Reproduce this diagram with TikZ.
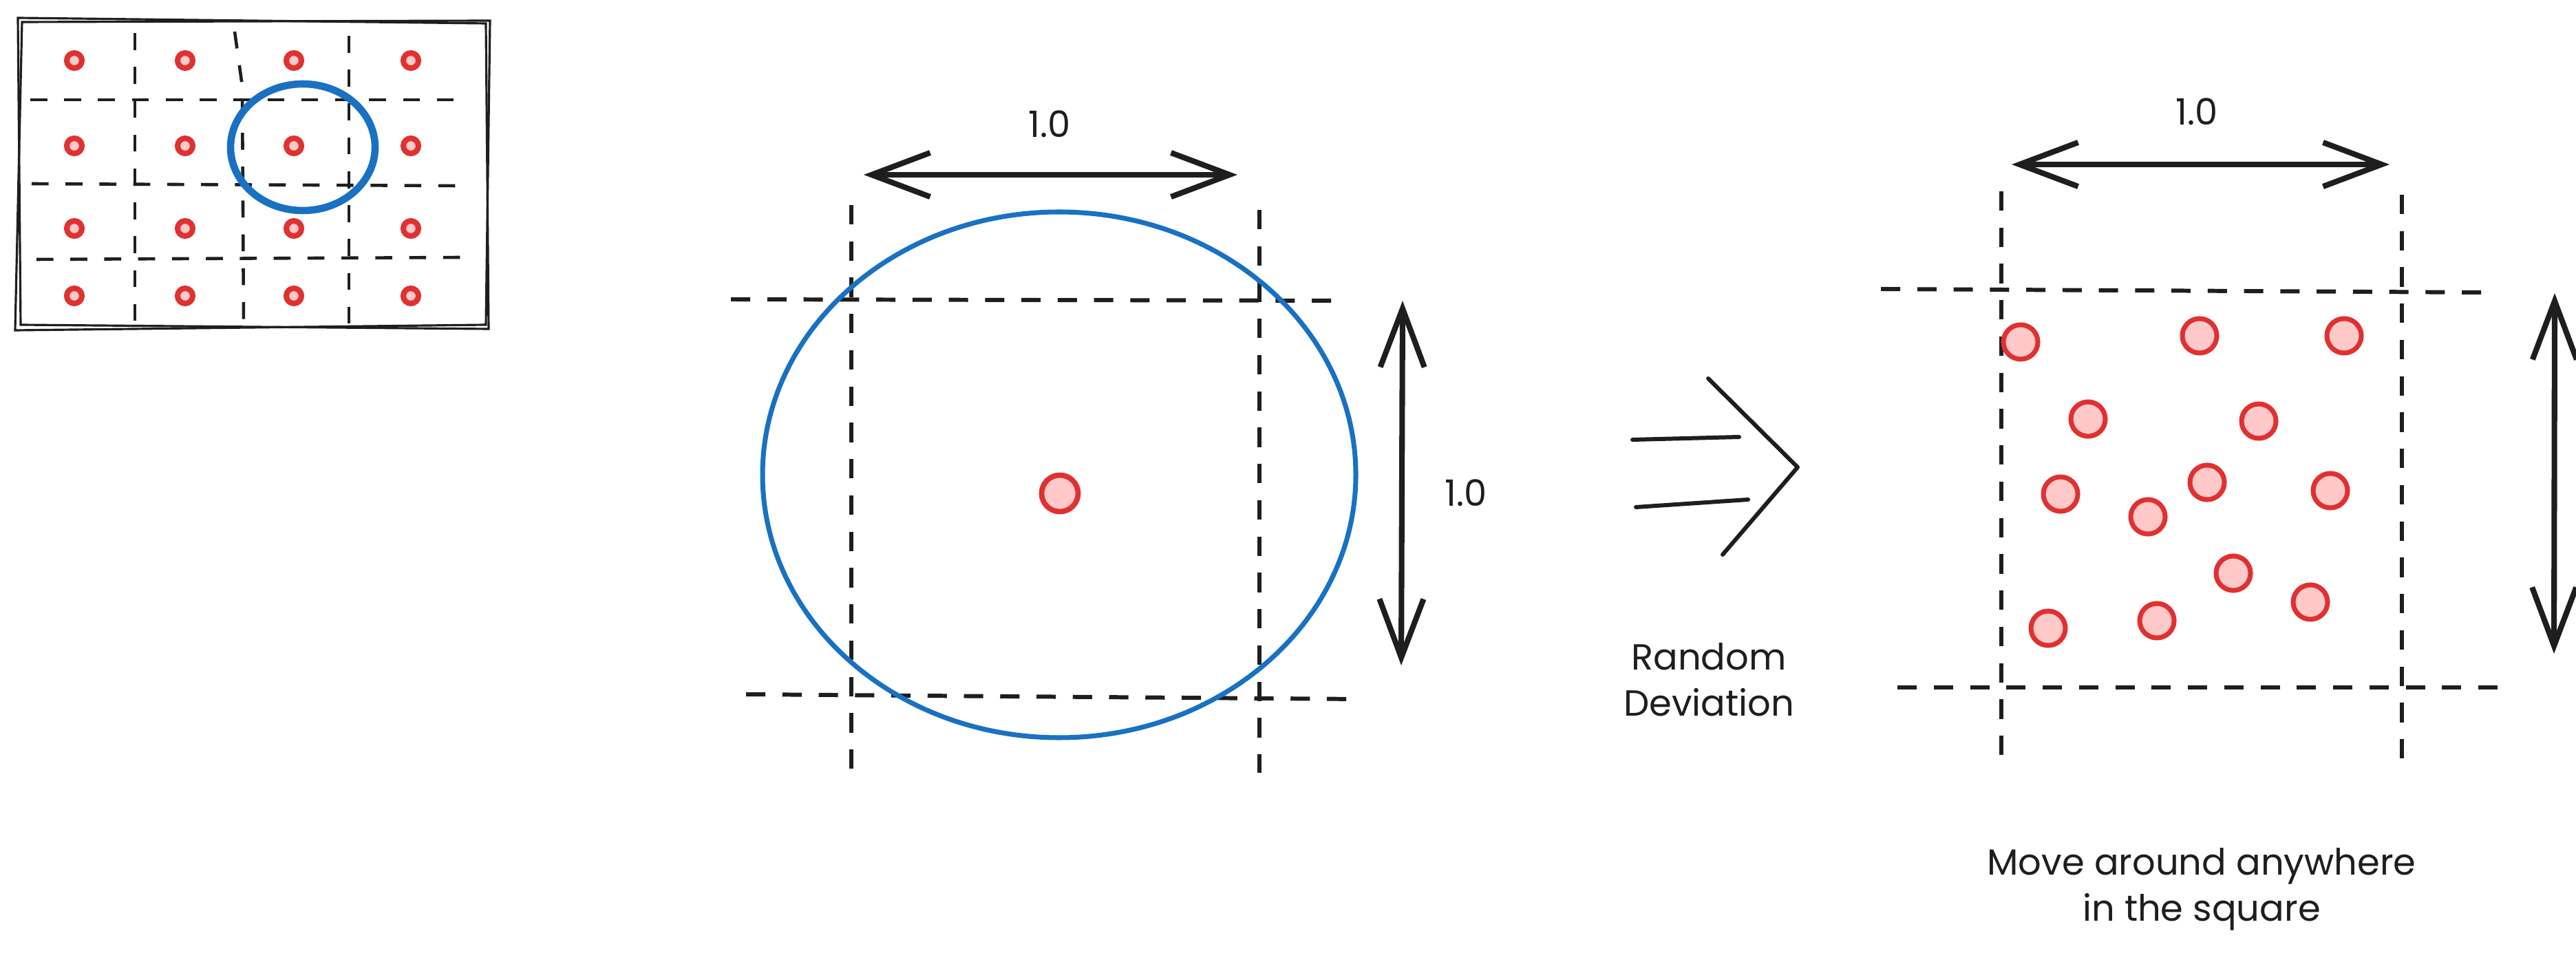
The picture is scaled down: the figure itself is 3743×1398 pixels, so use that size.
\documentclass[tikz,border=0pt]{standalone}
\usepackage{fontspec}
\setmainfont{Poppins}
\usetikzlibrary{arrows.meta}
\definecolor{ink}{HTML}{1E1E1E}
\definecolor{ringblue}{HTML}{1971C2}
\definecolor{dotred}{HTML}{E03131}
\definecolor{dotfill}{HTML}{FFC9C9}

\begin{document}
\begin{tikzpicture}[x=0.01cm, y=-0.01cm,
  gridln/.style={draw=ink, line width=1.7pt, dash pattern=on 8pt off 7pt},
  thumbln/.style={draw=ink, line width=1.3pt, dash pattern=on 7pt off 7pt},
  frameln/.style={draw=ink, line width=0.9pt},
  dimarr/.style={{Straight Barb[length=8.5mm,width=6.4mm]}-{Straight Barb[length=8.5mm,width=6.4mm]},
                 draw=ink, line width=2.3pt, line cap=round, line join=round},
  impl/.style={draw=ink, line width=1.7pt, line cap=round, line join=round},
  ring/.style={draw=ringblue, line width=2pt},
  thumbring/.style={draw=ringblue, line width=3pt},
  dotsm/.style={circle, draw=dotred, fill=dotfill, line width=2.3pt,
                minimum size=0.22cm, inner sep=0pt},
  dotmid/.style={circle, draw=dotred, fill=dotfill, line width=2.2pt,
                 minimum size=0.53cm, inner sep=0pt},
  dotbig/.style={circle, draw=dotred, fill=dotfill, line width=2pt,
                 minimum size=0.5cm, inner sep=0pt},
  lbl/.style={font=\fontsize{15}{19}\selectfont, text=ink, align=center, inner sep=0pt},
]
\fill[white] (0,0) rectangle (3743,1398);
\useasboundingbox (0,0) rectangle (3743,1398);

% thumbnail of the whole grid
\draw[frameln] (26,26) -- (706,34) -- (710,478) -- (30,472) -- cycle;
\draw[frameln] (32,32) -- (712,30) -- (706,472) -- (22,480) -- cycle;
\draw[thumbln] (196,48) -- (196,476);
\draw[thumbln] (341,46) -- (352,125) -- (354,478);
\draw[thumbln] (507,52) -- (507,476);
\draw[thumbln] (44,145) -- (682,145);
\draw[thumbln] (46,267) -- (664,270);
\draw[thumbln] (53,377) -- (670,374);
\foreach \gx [count=\i] in {108,269,427,597}
  \foreach \gy [count=\j] in {88,212,332,430}
    \node[dotsm] (t-\i-\j) at (\gx,\gy) {};
\draw[thumbring] (440,214) ellipse [x radius=105, y radius=92];

% one cell with its neighbourhood
\draw[gridln] (1237,298) -- (1237,1133);
\draw[gridln] (1830,305) -- (1830,1123);
\draw[gridln] (1062,435) -- (1955,437);
\draw[gridln] (1084,1009) -- (1976,1016);
\draw[ring] (1539,690) ellipse [x radius=431, y radius=382];
\node[dotmid] (mdot) at (1540,717) {};

\coordinate (mwL) at (1255,254);
\coordinate (mwR) at (1798,254);
\draw[dimarr] (mwL) -- (mwR);
\node[lbl] (mwlbl) at (1525,180) {1.0};

\coordinate (mhT) at (2038,437);
\coordinate (mhB) at (2036,967);
\draw[dimarr] (mhT) -- (mhB);
\node[lbl] (mhlbl) at (2130,716) {1.0};

% implies sign
\coordinate (i1a) at (2372,639); \coordinate (i1b) at (2527,635);
\coordinate (i2a) at (2377,737); \coordinate (i2b) at (2540,726);
\coordinate (iTop) at (2482,550); \coordinate (iTip) at (2612,679);
\coordinate (iBot) at (2503,806);
\draw[impl] (i1a) -- (i1b);
\draw[impl] (i2a) -- (i2b);
\draw[impl] (iTop) -- (iTip) -- (iBot);
\node[lbl] (devlbl) at (2483,988) {Random\\Deviation};

% points spread inside the square
\draw[gridln] (2908,278) -- (2908,1117);
\draw[gridln] (3490,283) -- (3490,1108);
\draw[gridln] (2733,420) -- (3615,425);
\draw[gridln] (2757,999) -- (3638,999);
\foreach \px/\py [count=\k] in {2936/497, 3196/488, 3406/488, 3034/609, 3282/612,
    2994/718, 3207/701, 3386/713, 3121/751, 3245/833, 2976/913, 3134/902, 3357/875}
  \node[dotbig] (r\k) at (\px,\py) {};

\coordinate (rwL) at (2923,239);
\coordinate (rwR) at (3472,239);
\draw[dimarr] (rwL) -- (rwR);
\node[lbl] (rwlbl) at (3192,162) {1.0};

\coordinate (rhT) at (3712,426);
\coordinate (rhB) at (3711,950);
\draw[dimarr] (rhT) -- (rhB);

\node[lbl] (movelbl) at (3199,1292) {Move around anywhere\\in the square};
\end{tikzpicture}
\end{document}
